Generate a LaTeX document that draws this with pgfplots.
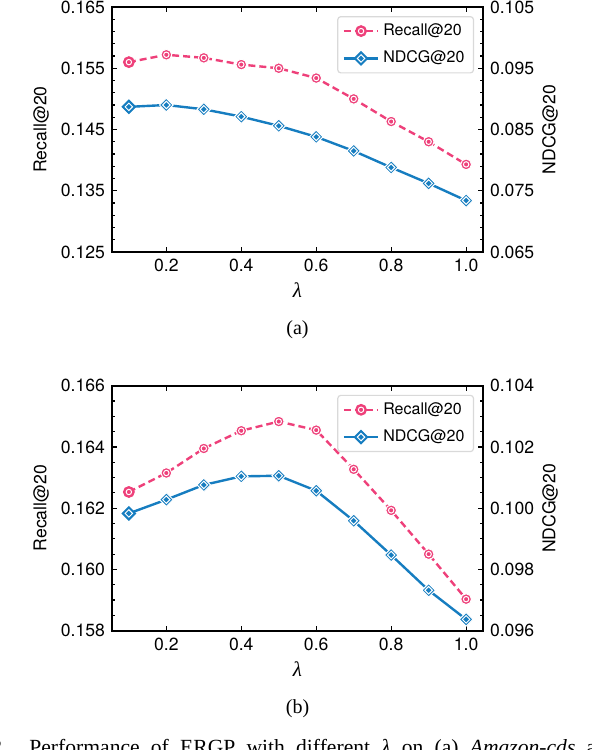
\documentclass[border=0pt]{standalone}
\usepackage{pgfplots}
\pgfplotsset{compat=1.18}
\usepackage{fontspec}
\setmainfont{TeX Gyre Heros}
\newfontfamily\serif{Liberation Serif}
\definecolor{cpink}{RGB}{238,64,122}
\definecolor{cblue}{RGB}{22,125,192}

\pgfdeclareplotmark{ringcircle}{%
  \pgfpathcircle{\pgfpointorigin}{\pgfplotmarksize}%
  \pgfusepathqfillstroke
  \pgfsetstrokecolor{white}\pgfsetlinewidth{0.5pt}%
  \pgfpathcircle{\pgfpointorigin}{0.5\pgfplotmarksize}%
  \pgfusepathqstroke
}
\pgfdeclareplotmark{ringdiamond}{%
  \pgfpathmoveto{\pgfqpoint{0pt}{\pgfplotmarksize}}%
  \pgfpathlineto{\pgfqpoint{\pgfplotmarksize}{0pt}}%
  \pgfpathlineto{\pgfqpoint{0pt}{-\pgfplotmarksize}}%
  \pgfpathlineto{\pgfqpoint{-\pgfplotmarksize}{0pt}}%
  \pgfpathclose
  \pgfusepathqfillstroke
  \pgfsetstrokecolor{white}\pgfsetlinewidth{0.5pt}%
  \pgfpathmoveto{\pgfqpoint{0pt}{0.55\pgfplotmarksize}}%
  \pgfpathlineto{\pgfqpoint{0.55\pgfplotmarksize}{0pt}}%
  \pgfpathlineto{\pgfqpoint{0pt}{-0.55\pgfplotmarksize}}%
  \pgfpathlineto{\pgfqpoint{-0.55\pgfplotmarksize}{0pt}}%
  \pgfpathclose
  \pgfusepathqstroke
}

\pgfplotsset{
  base/.style={
    scale only axis, width=185.5pt, height=122.5pt,
    xmin=0.055, xmax=1.045, xtick={0.2,0.4,0.6,0.8,1.0},
    tick align=inside, major tick length=2.6pt, minor tick length=1.5pt,
    tick style={black, line width=0.6pt},
    axis line style={line width=0.9pt},
    scaled ticks=false,
    /pgf/number format/assume math mode=true,
    tick label style={font=\fontsize{8.8}{10}\selectfont},
    label style={font=\fontsize{8.8}{10}\selectfont},
    yticklabel style={/pgf/number format/.cd, fixed, fixed zerofill, precision=3},
    xticklabel style={/pgf/number format/.cd, fixed, fixed zerofill, precision=1},
  },
  leftax/.style={
    base, xtick pos=both, xticklabel pos=lower, ytick pos=left,
    ylabel={Recall@20},
    ylabel style={at={(axis description cs:-0.191,0.5)}, anchor=center},
    xlabel={{\serif\itshape λ}},
    xlabel style={at={(axis description cs:0.5,-0.157)}, anchor=center, font=\fontsize{10.5}{12}\selectfont},
  },
  rightax/.style={
    base, axis x line=none, axis y line*=right, ytick pos=right,
    ylabel={NDCG@20},
    ylabel style={at={(axis description cs:1.181,0.5)}, anchor=center},
    legend cell align=left,
    legend style={at={(axis description cs:0.976,0.963)}, anchor=north east,
      draw=black!15, line width=0.6pt, rounded corners=1.5pt,
      font=\fontsize{8}{9.5}\selectfont, inner xsep=2.5pt, inner ysep=1.5pt, row sep=2.2pt},
  },
  recall/.style={cpink, line width=1.2pt, dash pattern=on 3.5pt off 2pt,
    mark=ringcircle, mark size=2.7pt, mark options={solid, fill=cpink, line width=0.5pt}},
  ndcg/.style={cblue, line width=1.2pt,
    mark=ringdiamond, mark size=3.4pt, mark options={solid, fill=cblue, line width=0.5pt}},
}

\begin{document}
\begin{tikzpicture}
\useasboundingbox (0,0) rectangle (296pt,-375pt);

% ---------- (a) ----------
\begin{axis}[leftax, at={(56pt,-3.5pt)}, anchor=north west,
  ymin=0.125, ymax=0.165, ytick={0.125,0.135,0.145,0.155,0.165}, minor y tick num=4]
\addplot[recall] coordinates {(0.1,0.1560) (0.2,0.1572) (0.3,0.1567) (0.4,0.1556) (0.5,0.1550)
  (0.6,0.1534) (0.7,0.1500) (0.8,0.1463) (0.9,0.1430) (1.0,0.1393)};
\end{axis}
\begin{axis}[rightax, at={(56pt,-3.5pt)}, anchor=north west,
  ymin=0.065, ymax=0.105, ytick={0.065,0.075,0.085,0.095,0.105}, minor y tick num=4]
\addlegendimage{recall}
\addlegendentry{Recall@20}
\addplot[ndcg] coordinates {(0.1,0.0887) (0.2,0.0890) (0.3,0.0883) (0.4,0.0871) (0.5,0.0856)
  (0.6,0.0838) (0.7,0.0815) (0.8,0.0788) (0.9,0.0762) (1.0,0.0734)};
\addlegendentry{NDCG@20}
\end{axis}

% ---------- (b) ----------
\begin{axis}[leftax, at={(56pt,-192.85pt)}, anchor=north west,
  ymin=0.158, ymax=0.166, ytick={0.158,0.160,0.162,0.164,0.166}, minor y tick num=3]
\addplot[recall] coordinates {(0.1,0.16253) (0.2,0.16315) (0.3,0.16395) (0.4,0.16453) (0.5,0.16483)
  (0.6,0.16455) (0.7,0.16327) (0.8,0.16193) (0.9,0.16050) (1.0,0.15903)};
\end{axis}
\begin{axis}[rightax, at={(56pt,-192.85pt)}, anchor=north west,
  ymin=0.096, ymax=0.104, ytick={0.096,0.098,0.100,0.102,0.104}, minor y tick num=3]
\addlegendimage{recall}
\addlegendentry{Recall@20}
\addplot[ndcg] coordinates {(0.1,0.09983) (0.2,0.10028) (0.3,0.10076) (0.4,0.10104) (0.5,0.10106)
  (0.6,0.10057) (0.7,0.09959) (0.8,0.09847) (0.9,0.09732) (1.0,0.09637)};
\addlegendentry{NDCG@20}
\end{axis}

\node[font=\serif\fontsize{10}{12}\selectfont] at (148.75pt,-165pt) {(a)};
\node[font=\serif\fontsize{10}{12}\selectfont] at (148.75pt,-354.5pt) {(b)};

\node[anchor=base east, inner sep=0pt, font=\serif\fontsize{10.8}{12}\selectfont] at (4pt,-377pt) {Fig.~2.};
\node[anchor=base west, inner sep=0pt, font=\serif\fontsize{10.8}{12}\selectfont] at (14.5pt,-377pt)
  {\spaceskip=5.6pt plus 1pt Performance of ERGP with different \textit{λ} on (a) \textit{Amazon-cds} and (b) \textit{Amazon-book} datasets.};
\end{tikzpicture}
\end{document}
